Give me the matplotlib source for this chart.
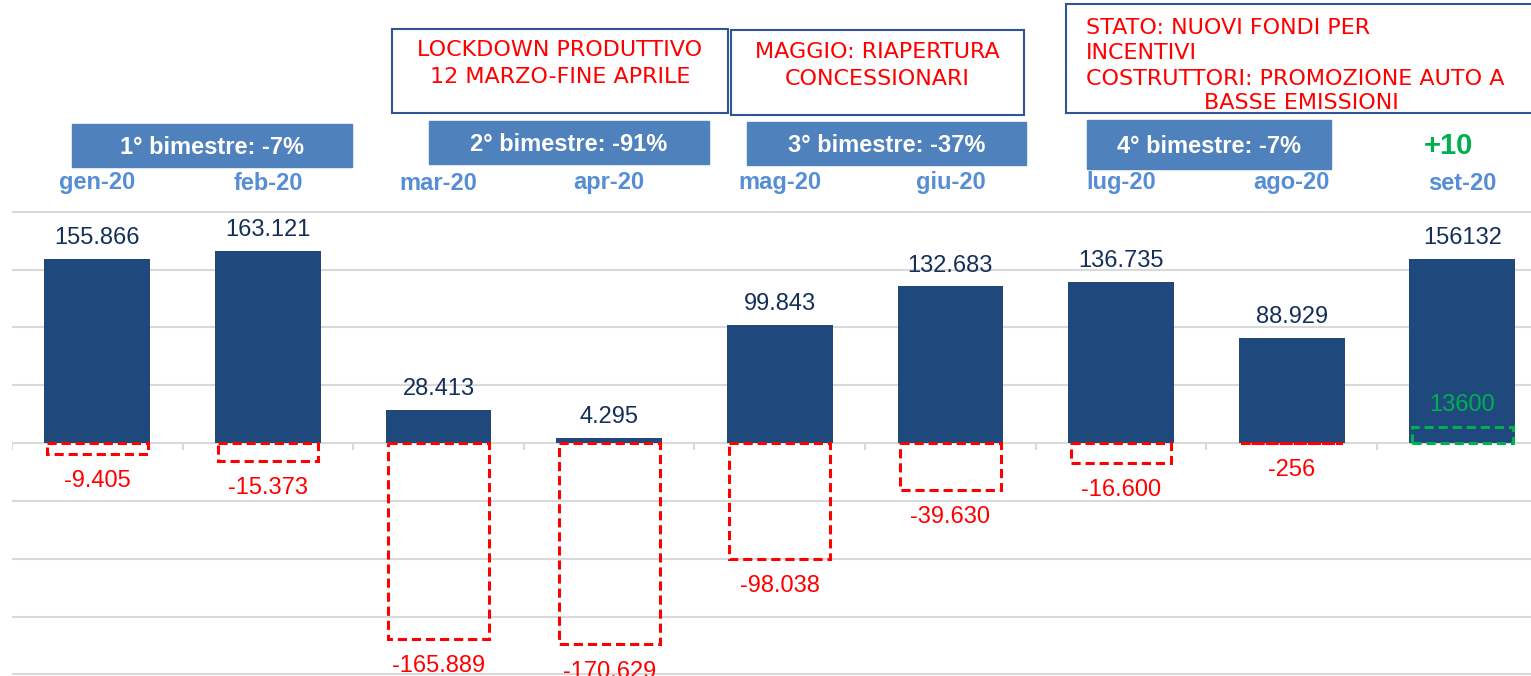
import matplotlib.pyplot as plt
from matplotlib.patches import Rectangle
from matplotlib import transforms
import numpy as np

mesi = ['gen-20', 'feb-20', 'mar-20', 'apr-20', 'mag-20', 'giu-20', 'lug-20', 'ago-20', 'set-20']
immatricolazioni = [155866, 163121, 28413, 4295, 99843, 132683, 136735, 88929, 156132]
differenze = [-9405, -15373, -165889, -170629, -98038, -39630, -16600, -256, 13600]
etichette_imm = ['155.866', '163.121', '28.413', '4.295', '99.843', '132.683', '136.735', '88.929', '156132']
etichette_diff = ['-9.405', '-15.373', '-165.889', '-170.629', '-98.038', '-39.630', '-16.600', '-256', '13600']
bimestri = ['1° bimestre: -7%', '2° bimestre: -91%', '3° bimestre: -37%', '4° bimestre: -7%']

W, H = 1531, 676
plt.rcParams['font.family'] = ['Liberation Sans', 'DejaVu Sans']
fig = plt.figure(figsize=(W / 100, H / 100), dpi=100)


def fx(x):
    return x / W


def fy(y):
    return 1 - y / H


# l'asse continua oltre il bordo destro, come nell'originale
ax = fig.add_axes([fx(12), fy(675), fx(1535.6), fy(210) - fy(675)])
ax.set_xlim(-0.5, 8.5)
ax.set_ylim(-196500, 197500)
ax.set_yticks(np.arange(-4, 5) * 49000)
ax.grid(axis='y', color='#D9D9D9', lw=1.5)
ax.set_axisbelow(True)
for s in ax.spines.values():
    s.set_visible(False)
ax.tick_params(left=False, labelleft=False, bottom=False, labelbottom=False)

x = np.arange(len(mesi))
# piccole tacche sull'asse dello zero
for b in np.arange(-0.5, 9, 1):
    ax.plot([b, b], [0, -5000], color='#D9D9D9', lw=1.5, zorder=1)

ax.bar(x, immatricolazioni, width=0.62, color='#1F497D', zorder=2)
colori_diff = ['#FF0000' if d < 0 else '#00B050' for d in differenze]
ax.bar(x, differenze, width=0.59, fill=False, edgecolor=colori_diff,
       linestyle=(0, (3, 1.6)), lw=2.2, zorder=3)

for i in range(len(mesi)):
    ax.annotate(etichette_imm[i], (x[i], immatricolazioni[i]), xytext=(0, 15),
                textcoords='offset points', ha='center', va='center',
                fontsize=17, color='#14305A')
    off = -19.5 if differenze[i] < 0 else 16
    ax.annotate(etichette_diff[i], (x[i], differenze[i]), xytext=(0, off),
                textcoords='offset points', ha='center', va='center',
                fontsize=17, color=colori_diff[i], zorder=4)

# etichette dei mesi sopra il grafico
trans = transforms.blended_transform_factory(ax.transData, fig.transFigure)
for i, m in enumerate(mesi):
    ax.text(i, fy(183), m, transform=trans, ha='center', va='center',
            fontsize=17, fontweight='bold', color='#558ED5')

# riquadri dei bimestri
box_bim = [(72, 124, 352, 167), (429, 121, 709, 164), (747, 122, 1026, 165), (1087, 120, 1331, 169)]
for (l, t, r, b), testo in zip(box_bim, bimestri):
    fig.add_artist(Rectangle((fx(l), fy(b)), fx(r - l), (b - t) / H,
                             transform=fig.transFigure, color='#4F81BD'))
    fig.text(fx((l + r) / 2), fy((t + b) / 2 + 2), testo, ha='center', va='center',
             fontsize=17, fontweight='bold', color='white')

fig.text(fx(1448), fy(146), '+10', ha='center', va='center', fontsize=21,
         fontweight='bold', color='#00B050')

# riquadri con le note
box_note = [(392, 29, 728, 113), (731, 30, 1024, 115), (1066, 4, 1545, 113)]
for l, t, r, b in box_note:
    fig.add_artist(Rectangle((fx(l), fy(b)), fx(r - l), (b - t) / H,
                             transform=fig.transFigure, facecolor='white',
                             edgecolor='#2F5597', lw=1.5))

nota_kw = dict(fontsize=16, color='#FF0000', family='DejaVu Sans', va='center')
fig.text(fx(560), fy(50), 'LOCKDOWN PRODUTTIVO', ha='center', **nota_kw)
fig.text(fx(560), fy(77), '12 MARZO-FINE APRILE', ha='center', **nota_kw)
fig.text(fx(877), fy(52), 'MAGGIO: RIAPERTURA', ha='center', **nota_kw)
fig.text(fx(877), fy(79), 'CONCESSIONARI', ha='center', **nota_kw)
fig.text(fx(1086), fy(28), 'STATO: NUOVI FONDI PER', ha='left', **nota_kw)
fig.text(fx(1086), fy(53), 'INCENTIVI', ha='left', **nota_kw)
fig.text(fx(1086), fy(79), 'COSTRUTTORI: PROMOZIONE AUTO A', ha='left', **nota_kw)
fig.text(fx(1301), fy(103), 'BASSE EMISSIONI', ha='center', **nota_kw)

fig.savefig('out.png', dpi=100)
